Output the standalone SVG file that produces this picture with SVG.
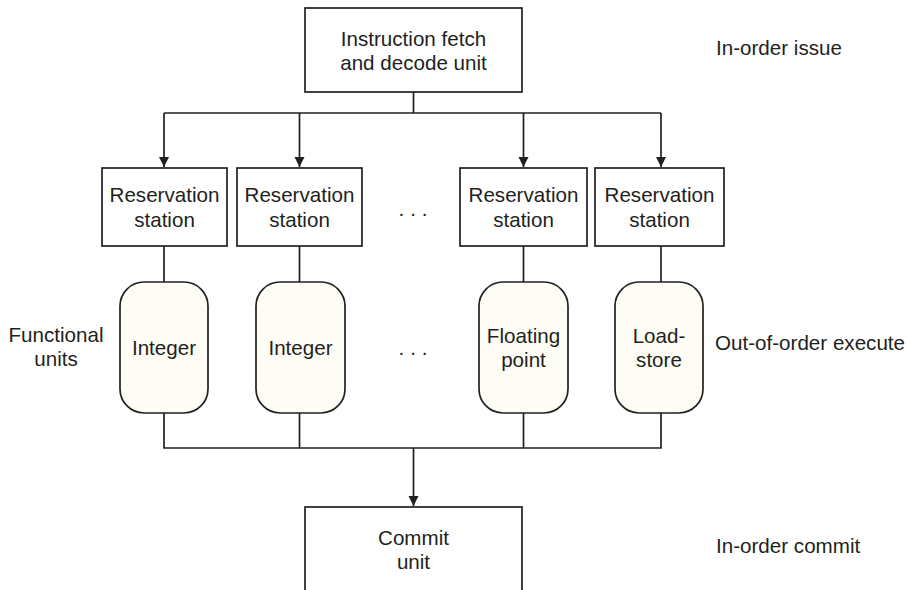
<svg xmlns="http://www.w3.org/2000/svg" width="909" height="590" viewBox="0 0 909 590">
<style>
.box{fill:#ffffff;stroke:#231f20;stroke-width:1.7}
.fu{fill:#fdfdf5;stroke:#231f20;stroke-width:1.7}
.ln{fill:none;stroke:#231f20;stroke-width:1.7}
text{font-family:"Liberation Sans",Arial,Helvetica,sans-serif;font-size:20.6px;fill:#231f20}
.c{text-anchor:middle}
</style>
<defs>
<marker id="ah" viewBox="0 0 10 14" refX="10" refY="7" markerWidth="10" markerHeight="14" markerUnits="userSpaceOnUse" orient="auto">
<path d="M0,2 L10,7 L0,12 Z" fill="#231f20"/>
</marker>
</defs>
<rect width="909" height="590" fill="#ffffff"/>
<g id="connectors">
<path class="ln" d="M413.5,92 V113"/>
<path class="ln" d="M164,113 H661"/>
<path class="ln" d="M164,113 V167" marker-end="url(#ah)"/>
<path class="ln" d="M299.5,113 V167" marker-end="url(#ah)"/>
<path class="ln" d="M523.5,113 V167" marker-end="url(#ah)"/>
<path class="ln" d="M661,113 V167" marker-end="url(#ah)"/>
<path class="ln" d="M164,246 V282"/>
<path class="ln" d="M299.5,246 V282"/>
<path class="ln" d="M523.5,246 V282"/>
<path class="ln" d="M661,246 V282"/>
<path class="ln" d="M164,413 V448 H661 V413"/>
<path class="ln" d="M299.5,413 V448"/>
<path class="ln" d="M523.5,413 V448"/>
<path class="ln" d="M413.5,448 V506" marker-end="url(#ah)"/>
</g>
<g id="fetch">
<rect class="box" x="305" y="8" width="217" height="84"/>
<text class="c" x="413.5" y="46">Instruction fetch</text>
<text class="c" x="413.5" y="70">and decode unit</text>
</g>
<g id="rs1">
<rect class="box" x="102" y="168" width="125" height="78"/>
<text class="c" x="164.5" y="202">Reservation</text>
<text class="c" x="164.5" y="227">station</text>
</g>
<g id="rs2">
<rect class="box" x="237" y="168" width="125" height="78"/>
<text class="c" x="299.5" y="202">Reservation</text>
<text class="c" x="299.5" y="227">station</text>
</g>
<g id="rs3">
<rect class="box" x="460" y="168" width="127" height="78"/>
<text class="c" x="523.5" y="202">Reservation</text>
<text class="c" x="523.5" y="227">station</text>
</g>
<g id="rs4">
<rect class="box" x="595" y="168" width="129" height="78"/>
<text class="c" x="659.5" y="202">Reservation</text>
<text class="c" x="659.5" y="227">station</text>
</g>
<g id="fu1">
<rect class="fu" x="120" y="282" width="88" height="131" rx="24" ry="24"/>
<text class="c" x="164" y="355">Integer</text>
</g>
<g id="fu2">
<rect class="fu" x="256" y="282" width="89" height="131" rx="24" ry="24"/>
<text class="c" x="300.5" y="355">Integer</text>
</g>
<g id="fu3">
<rect class="fu" x="479" y="282" width="89" height="131" rx="24" ry="24"/>
<text class="c" x="523.5" y="343">Floating</text>
<text class="c" x="523.5" y="367">point</text>
</g>
<g id="fu4">
<rect class="fu" x="615" y="282" width="88" height="131" rx="24" ry="24"/>
<text class="c" x="659" y="343">Load-</text>
<text class="c" x="659" y="367">store</text>
</g>
<g id="commit">
<rect class="box" x="305" y="507" width="217" height="100"/>
<text class="c" x="413.5" y="545">Commit</text>
<text class="c" x="413.5" y="569">unit</text>
</g>
<g id="labels">
<text x="716" y="55">In-order issue</text>
<text x="715" y="350">Out-of-order execute</text>
<text x="716" y="553">In-order commit</text>
<text class="c" x="56" y="342">Functional</text>
<text class="c" x="56" y="366">units</text>
<text class="c" x="416" y="216" style="letter-spacing:6px">...</text>
<text class="c" x="416" y="355" style="letter-spacing:6px">...</text>
</g>
</svg>
